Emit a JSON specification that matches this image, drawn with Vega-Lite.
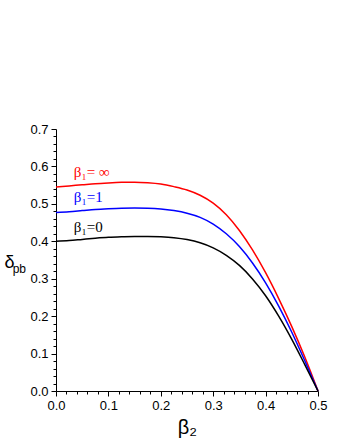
{
  "$schema": "https://vega.github.io/schema/vega-lite/v6.json",
  "width": 262,
  "height": 262,
  "autosize": {"type": "none"},
  "padding": {"left": 56, "top": 129, "right": 25, "bottom": 53},
  "background": "white",
  "config": {"view": {"stroke": null}},
  "datasets": {
    "curves": [
      {"b2": 0.0, "d": 0.545, "s": "inf"}, {"b2": 0.025, "d": 0.548, "s": "inf"}, {"b2": 0.05, "d": 0.551, "s": "inf"}, {"b2": 0.075, "d": 0.554, "s": "inf"}, {"b2": 0.1, "d": 0.556, "s": "inf"}, {"b2": 0.125, "d": 0.5575, "s": "inf"}, {"b2": 0.15, "d": 0.558, "s": "inf"}, {"b2": 0.175, "d": 0.5565, "s": "inf"}, {"b2": 0.2, "d": 0.553, "s": "inf"}, {"b2": 0.225, "d": 0.546, "s": "inf"}, {"b2": 0.25, "d": 0.537, "s": "inf"}, {"b2": 0.275, "d": 0.523, "s": "inf"}, {"b2": 0.3, "d": 0.502, "s": "inf"}, {"b2": 0.325, "d": 0.471, "s": "inf"}, {"b2": 0.35, "d": 0.429, "s": "inf"}, {"b2": 0.375, "d": 0.377, "s": "inf"}, {"b2": 0.4, "d": 0.316, "s": "inf"}, {"b2": 0.425, "d": 0.247, "s": "inf"}, {"b2": 0.45, "d": 0.172, "s": "inf"}, {"b2": 0.475, "d": 0.090, "s": "inf"}, {"b2": 0.5, "d": 0.0, "s": "inf"},
      {"b2": 0.0, "d": 0.477, "s": "one"}, {"b2": 0.025, "d": 0.479, "s": "one"}, {"b2": 0.05, "d": 0.482, "s": "one"}, {"b2": 0.075, "d": 0.485, "s": "one"}, {"b2": 0.1, "d": 0.487, "s": "one"}, {"b2": 0.125, "d": 0.4885, "s": "one"}, {"b2": 0.15, "d": 0.489, "s": "one"}, {"b2": 0.175, "d": 0.4885, "s": "one"}, {"b2": 0.2, "d": 0.4865, "s": "one"}, {"b2": 0.225, "d": 0.482, "s": "one"}, {"b2": 0.25, "d": 0.475, "s": "one"}, {"b2": 0.275, "d": 0.464, "s": "one"}, {"b2": 0.3, "d": 0.446, "s": "one"}, {"b2": 0.325, "d": 0.420, "s": "one"}, {"b2": 0.35, "d": 0.386, "s": "one"}, {"b2": 0.375, "d": 0.342, "s": "one"}, {"b2": 0.4, "d": 0.289, "s": "one"}, {"b2": 0.425, "d": 0.227, "s": "one"}, {"b2": 0.45, "d": 0.157, "s": "one"}, {"b2": 0.475, "d": 0.080, "s": "one"}, {"b2": 0.5, "d": 0.0, "s": "one"},
      {"b2": 0.0, "d": 0.400, "s": "zero"}, {"b2": 0.025, "d": 0.402, "s": "zero"}, {"b2": 0.05, "d": 0.405, "s": "zero"}, {"b2": 0.075, "d": 0.408, "s": "zero"}, {"b2": 0.1, "d": 0.4105, "s": "zero"}, {"b2": 0.125, "d": 0.412, "s": "zero"}, {"b2": 0.15, "d": 0.413, "s": "zero"}, {"b2": 0.175, "d": 0.413, "s": "zero"}, {"b2": 0.2, "d": 0.412, "s": "zero"}, {"b2": 0.225, "d": 0.4095, "s": "zero"}, {"b2": 0.25, "d": 0.4045, "s": "zero"}, {"b2": 0.275, "d": 0.396, "s": "zero"}, {"b2": 0.3, "d": 0.3825, "s": "zero"}, {"b2": 0.325, "d": 0.3625, "s": "zero"}, {"b2": 0.35, "d": 0.3355, "s": "zero"}, {"b2": 0.375, "d": 0.2995, "s": "zero"}, {"b2": 0.4, "d": 0.2545, "s": "zero"}, {"b2": 0.425, "d": 0.200, "s": "zero"}, {"b2": 0.45, "d": 0.138, "s": "zero"}, {"b2": 0.475, "d": 0.070, "s": "zero"}, {"b2": 0.5, "d": 0.0, "s": "zero"}
    ],
    "labels": [
      {"b2": 0.034, "d": 0.586, "t": "β₁= ∞", "s": "inf"},
      {"b2": 0.034, "d": 0.517, "t": "β₁=1", "s": "one"},
      {"b2": 0.034, "d": 0.437, "t": "β₁=0", "s": "zero"}
    ],
    "sub": [
      {"b2": -0.070, "d": 0.326, "t": "pb"}
    ]
  },
  "resolve": {"axis": {"x": "independent", "y": "independent"}},
  "layer": [
    {
      "data": {"name": "curves"},
      "mark": {"type": "line", "strokeWidth": 1.5, "interpolate": "monotone", "clip": false},
      "encoding": {
        "x": {"field": "b2", "type": "quantitative", "scale": {"domain": [0, 0.5], "nice": false, "zero": false},
          "axis": {"orient": "bottom", "values": [0, 0.1, 0.2, 0.3, 0.4, 0.5], "format": ".1f", "grid": false, "domainColor": "black", "domainWidth": 1, "tickColor": "black", "tickSize": 5, "labelFont": "Liberation Sans", "labelFontSize": 13, "labelColor": "black", "labelPadding": 3, "labelFlush": false,
            "title": "β₂", "titleFont": "Liberation Sans", "titleFontSize": 20, "titleFontWeight": "normal", "titleColor": "black", "titlePadding": 5}},
        "y": {"field": "d", "type": "quantitative", "scale": {"domain": [0, 0.7], "nice": false, "zero": false},
          "axis": {"orient": "left", "values": [0, 0.1, 0.2, 0.3, 0.4, 0.5, 0.6, 0.7], "format": ".1f", "grid": false, "domainColor": "black", "domainWidth": 1, "tickColor": "black", "tickSize": 5, "labelFont": "Liberation Sans", "labelFontSize": 13, "labelColor": "black", "labelPadding": 3, "labelFlush": false,
            "title": "δ", "titleAngle": 0, "titleX": -52, "titleY": 133, "titleAlign": "left", "titleBaseline": "middle", "titleFont": "Liberation Sans", "titleFontSize": 18, "titleFontWeight": "normal", "titleColor": "black"}},
        "color": {"field": "s", "type": "nominal", "scale": {"domain": ["inf", "one", "zero"], "range": ["#ff0000", "#0000ff", "#000000"]}, "legend": null},
        "detail": {"field": "s"}
      }
    },
    {
      "data": {"values": [{"v": 0.02}, {"v": 0.04}, {"v": 0.06}, {"v": 0.08}]},
      "mark": {"type": "point", "opacity": 0},
      "encoding": {
        "x": {"field": "v", "type": "quantitative", "scale": {"domain": [0, 0.5], "nice": false, "zero": false},
          "axis": {"orient": "bottom", "values": [0.02,0.04,0.06,0.08,0.12,0.14,0.16,0.18,0.22,0.24,0.26,0.28,0.32,0.34,0.36,0.38,0.42,0.44,0.46,0.48], "labels": false, "domain": false, "grid": false, "tickColor": "black", "tickSize": 3, "title": null}},
        "y": {"field": "v", "type": "quantitative", "scale": {"domain": [0, 0.7], "nice": false, "zero": false},
          "axis": {"orient": "left", "values": [0.02,0.04,0.06,0.08,0.12,0.14,0.16,0.18,0.22,0.24,0.26,0.28,0.32,0.34,0.36,0.38,0.42,0.44,0.46,0.48,0.52,0.54,0.56,0.58,0.62,0.64,0.66,0.68], "labels": false, "domain": false, "grid": false, "tickColor": "black", "tickSize": 3, "title": null}}
      }
    },
    {
      "data": {"name": "labels"},
      "mark": {"type": "text", "align": "left", "baseline": "middle", "font": "Liberation Serif", "fontSize": 15, "clip": false},
      "encoding": {
        "x": {"field": "b2", "type": "quantitative", "axis": null},
        "y": {"field": "d", "type": "quantitative", "axis": null},
        "text": {"field": "t"},
        "color": {"field": "s", "type": "nominal", "scale": {"domain": ["inf", "one", "zero"], "range": ["#ff0000", "#0000ff", "#000000"]}, "legend": null}
      }
    },
    {
      "data": {"name": "sub"},
      "mark": {"type": "text", "align": "center", "baseline": "middle", "font": "Liberation Sans", "fontSize": 12, "color": "black", "clip": false},
      "encoding": {
        "x": {"field": "b2", "type": "quantitative", "axis": null},
        "y": {"field": "d", "type": "quantitative", "axis": null},
        "text": {"field": "t"}
      }
    }
  ]
}
